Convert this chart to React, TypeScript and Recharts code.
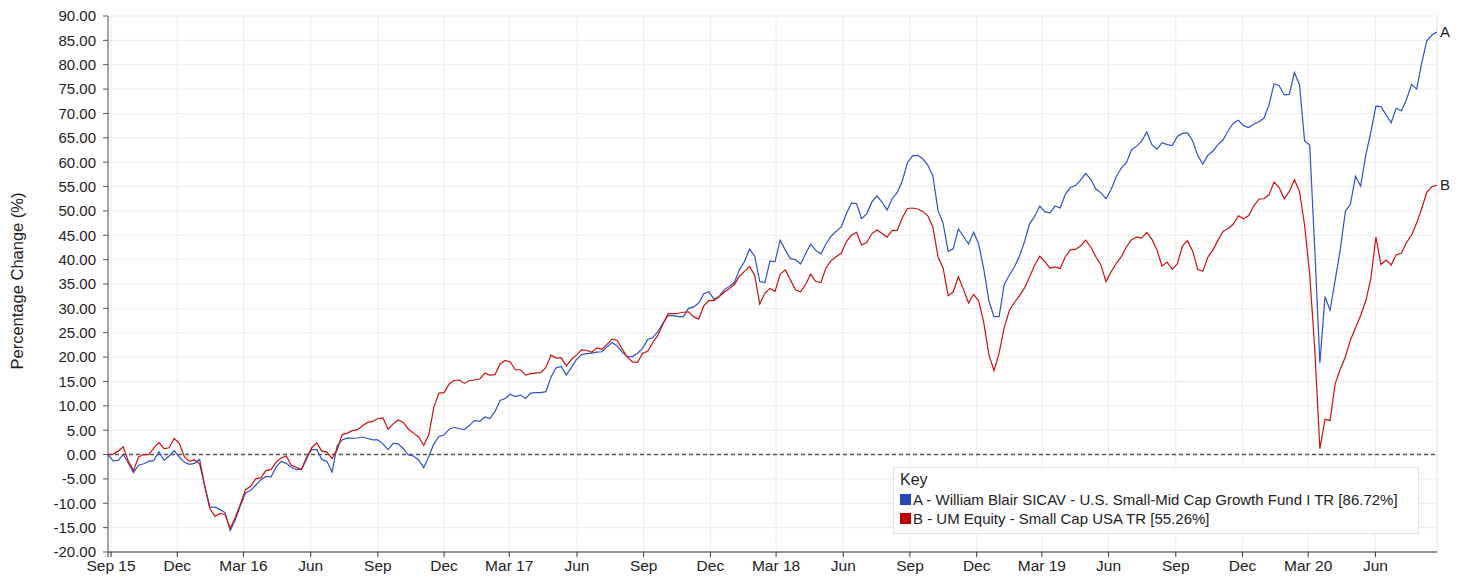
import {
  CartesianGrid,
  LabelList,
  Line,
  LineChart,
  ReferenceLine,
  XAxis,
  YAxis,
} from 'recharts';

// weekly % change, Sep 2015 -> Aug 2020
const FUND_A = [
  0, -1.3, -1.2, 0, -1.8, -3.7, -2.2, -1.9, -1.4, -1.2,
  0.6, -1.2, -0.3, 0.8, -0.5, -1.6, -2.0, -1.8, -1.0, -6.5,
  -10.8, -10.8, -11.3, -11.9, -15.6, -13.4, -10.5, -7.9, -7.4, -6.3,
  -5.2, -4.5, -4.6, -2.6, -1.4, -1.8, -2.6, -3.1, -3.0, -0.5,
  1.0, 1.0, -1.0, -1.4, -3.6, 1.8, 3.0, 3.4, 3.3, 3.4,
  3.6, 3.3, 3.0, 3.0, 2.2, 1.0, 2.3, 2.2, 1.2, -0.1,
  -0.3, -1.1, -2.7, -0.4, 2.2, 3.7, 4.0, 5.2, 5.6, 5.3,
  5.1, 6.0, 7.0, 6.8, 7.7, 7.4, 8.8, 11.1, 11.5, 12.4,
  11.9, 12.2, 11.5, 12.6, 12.7, 12.7, 12.9, 15.9, 17.8, 18.1,
  16.3, 17.9, 19.5, 20.5, 20.7, 20.8, 21.0, 21.1, 22.1, 23.0,
  22.3, 21.0, 20.1, 20.1, 20.8, 21.8, 23.6, 24.0, 25.2, 27.0,
  28.5, 28.5, 28.3, 28.3, 30.0, 30.3, 31.1, 33.0, 33.4, 31.9,
  32.4, 33.8, 34.5, 35.3, 37.9, 39.6, 42.2, 40.7, 35.5, 35.3,
  39.7, 39.6, 44.0, 42.0, 40.2, 40.0, 39.1, 41.2, 43.2, 41.9,
  41.2, 43.2, 44.8, 45.8, 46.7, 49.4, 51.6, 51.5, 48.4, 49.4,
  51.8, 53.1, 51.8, 50.2, 52.5, 53.8, 56.2, 59.9, 61.3, 61.4,
  60.7, 59.4, 57.2, 50.1, 47.5, 41.7, 42.2, 46.3, 44.8, 43.2,
  45.6, 43.2, 38.0, 31.5, 28.3, 28.3, 34.9, 36.8, 38.5, 40.7,
  43.7, 47.4, 48.9, 51.0, 49.8, 49.6, 51.0, 50.6, 53.4, 54.8,
  55.2, 56.3, 57.7, 56.5, 54.5, 53.7, 52.5, 54.4, 57.0, 58.8,
  59.9, 62.5, 63.3, 64.3, 66.2, 63.6, 62.7, 64.0, 63.6, 63.4,
  65.3, 65.9, 66.0, 64.4, 61.4, 59.6, 61.4, 62.3, 63.6, 64.6,
  66.5, 68.0, 68.6, 67.5, 67.1, 67.8, 68.3, 69.0, 71.7, 76.1,
  75.7, 73.8, 73.9, 78.4, 75.9, 64.3, 63.5, 42.0, 18.8, 32.4,
  29.6, 35.8, 42.0, 49.9, 51.4, 57.1, 55.1, 61.4, 66.1, 71.5,
  71.4, 69.7, 68.1, 71.1, 70.5, 72.8, 76.0, 75.0, 80.4, 84.9,
  86.1, 86.72,
];

const FUND_B = [
  0, 0.1, 0.7, 1.6, -1.4, -3.3, -0.5, 0, 0, 1.3,
  2.5, 1.2, 1.4, 3.3, 2.3, -0.5, -1.4, -1.1, -1.9, -6.5,
  -11.1, -12.7, -12.1, -12.3, -15.2, -12.9, -10.2, -7.2, -6.5, -5.0,
  -4.8, -3.3, -3.1, -1.6, -0.7, -0.3, -2.2, -2.6, -3.1, -0.9,
  1.4, 2.4, 0.7, 0.5, -0.8, 1.0, 4.1, 4.4, 4.9, 5.1,
  5.9, 6.6, 6.8, 7.4, 7.5, 5.2, 6.3, 7.1, 6.6, 5.2,
  4.4, 3.6, 1.9, 4.0, 9.8, 12.6, 12.7, 14.5, 15.2, 15.3,
  14.6, 15.2, 15.3, 15.5, 16.7, 16.3, 16.4, 18.6, 19.3, 19.0,
  17.4, 17.4, 16.3, 16.6, 16.7, 16.8, 17.9, 20.4, 19.8, 19.9,
  18.2, 19.5, 20.4, 21.5, 21.4, 21.0, 21.9, 21.6, 22.6, 23.7,
  23.4, 21.6, 20.0, 19.0, 18.9, 20.8, 21.2, 23.0, 24.5, 26.8,
  28.9, 28.9, 29.0, 29.2, 29.3, 28.3, 27.8, 30.5, 31.6, 31.6,
  32.4, 33.3, 34.0, 34.9, 36.6, 37.6, 38.6, 36.8, 30.9, 33.1,
  34.1, 33.5, 37.0, 37.9, 35.9, 33.8, 33.4, 34.9, 37.0, 35.5,
  35.3, 38.3, 39.8, 40.6, 41.3, 43.7, 45.0, 45.6, 43.0, 43.5,
  45.3, 46.1, 45.4, 44.6, 46.0, 46.0, 48.6, 50.5, 50.6, 50.4,
  49.9, 49.0, 46.7, 40.6, 38.3, 32.6, 33.4, 36.5, 33.9, 31.1,
  32.9, 31.5, 27.0, 20.5, 17.2, 20.8, 26.0, 29.5, 31.2, 32.6,
  34.2, 36.5, 38.9, 40.7, 39.6, 38.2, 38.5, 38.2, 40.6, 42.0,
  42.1, 42.8, 44.0, 42.6, 40.6, 38.9, 35.5, 37.5, 39.2, 40.6,
  42.6, 44.1, 44.6, 44.4, 45.6, 44.2, 42.0, 38.7, 39.5, 38.0,
  39.1, 42.8, 43.9, 41.8, 38.0, 37.6, 40.5, 42.0, 44.0, 45.8,
  46.4, 47.3, 49.0, 48.4, 49.0, 51.0, 52.4, 52.5, 53.3, 55.9,
  54.8, 52.5, 54.0, 56.4, 54.0, 47.0, 37.0, 21.5, 1.2, 7.2,
  7.0, 14.5, 17.5, 20.0, 23.5, 26.0, 28.5, 31.5, 36.0, 44.6,
  39.0, 39.9, 38.9, 41.0, 41.3, 43.5, 45.0, 47.5, 50.5, 53.8,
  55.0, 55.26,
];

const X_TICKS = [
  0, 0.6, 13.6, 26.6, 39.8, 53.0, 66.0, 78.8, 92.1, 105.2, 118.3,
  131.2, 144.4, 157.5, 170.6, 183.4, 196.5, 209.7, 222.8, 235.7, 248.9,
];
const X_LABELS = [
  '', 'Sep 15', 'Dec', 'Mar 16', 'Jun', 'Sep', 'Dec', 'Mar 17', 'Jun', 'Sep', 'Dec',
  'Mar 18', 'Jun', 'Sep', 'Dec', 'Mar 19', 'Jun', 'Sep', 'Dec', 'Mar 20', 'Jun',
];
const Y_TICKS = [
  -20, -15, -10, -5, 0, 5, 10, 15, 20, 25, 30, 35, 40, 45, 50, 55, 60, 65, 70, 75, 80, 85, 90,
];

const SERIES = [
  { key: 'a', tag: 'A', color: '#2f52c4', swatch: '#2448b4', name: 'A - William Blair SICAV - U.S. Small-Mid Cap Growth Fund I TR [86.72%]' },
  { key: 'b', tag: 'B', color: '#cc1010', swatch: '#c00000', name: 'B - UM Equity - Small Cap USA TR [55.26%]' },
];

const LAST = FUND_A.length - 1;
const DATA = FUND_A.map((a, i) => ({ t: i, a, b: FUND_B[i] }));

const FONT = '"Liberation Sans", Arial, sans-serif';

const endLabel = (tag: string) => (props: any) => {
  if (props.index !== LAST) return null;
  return (
    <text x={props.x + 3} y={props.y + 5} fontSize={15} fill="#222" fontFamily={FONT}>
      {tag}
    </text>
  );
};

const yTitle = () => (
  <text
    x={17}
    y={281}
    transform="rotate(-90, 17, 281)"
    textAnchor="middle"
    dominantBaseline="central"
    fontSize={16.5}
    fill="#222"
    fontFamily={FONT}
  >
    Percentage Change (%)
  </text>
);

export default function App() {
  return (
    <div
      style={{
        position: 'absolute',
        left: 0,
        top: 0,
        width: 1459,
        height: 578,
        background: '#fff',
        fontFamily: FONT,
      }}
    >
      <LineChart
        width={1459}
        height={578}
        data={DATA}
        margin={{ top: 16, right: 22, bottom: 0, left: 0 }}
      >
        <CartesianGrid stroke="#ececec" />
        <XAxis
          type="number"
          dataKey="t"
          domain={[0, LAST]}
          ticks={X_TICKS}
          interval={0}
          tickFormatter={(v: number) => X_LABELS[X_TICKS.indexOf(v)] ?? ''}
          height={26}
          tickSize={5}
          tickMargin={3}
          stroke="#333"
          tick={{ fill: '#222', fontSize: 15.5, fontFamily: FONT }}
        />
        <YAxis
          type="number"
          domain={[-20, 90]}
          ticks={Y_TICKS}
          interval={0}
          width={108}
          tickFormatter={(v: number) => v.toFixed(2)}
          tickSize={5}
          tickMargin={7}
          stroke="#555"
          tick={{ fill: '#222', fontSize: 15, fontFamily: FONT }}
          label={{ content: yTitle }}
        />
        <ReferenceLine x={LAST} stroke="#ececec" />
        <ReferenceLine y={0} stroke="#555" strokeDasharray="4 3" strokeWidth={1.5} />
        {SERIES.map((s) => (
          <Line
            key={s.key}
            type="linear"
            dataKey={s.key}
            stroke={s.color}
            strokeWidth={1.2}
            dot={false}
            activeDot={false}
            isAnimationActive={false}
          >
            <LabelList dataKey={s.key} content={endLabel(s.tag)} />
          </Line>
        ))}
      </LineChart>
      <div
        style={{
          position: 'absolute',
          left: 893,
          top: 467,
          padding: '2px 20px 5px 6px',
          background: '#fff',
          border: '1px solid #e2e2e2',
          fontSize: 15,
          color: '#222',
          lineHeight: '19px',
        }}
      >
        <div style={{ fontSize: 16, marginBottom: 1 }}>Key</div>
        {SERIES.map((s) => (
          <div key={s.key} style={{ display: 'flex', alignItems: 'center' }}>
            <span
              style={{
                display: 'inline-block',
                width: 11,
                height: 11,
                background: s.swatch,
                marginRight: 2,
              }}
            />
            {s.name}
          </div>
        ))}
      </div>
    </div>
  );
}
